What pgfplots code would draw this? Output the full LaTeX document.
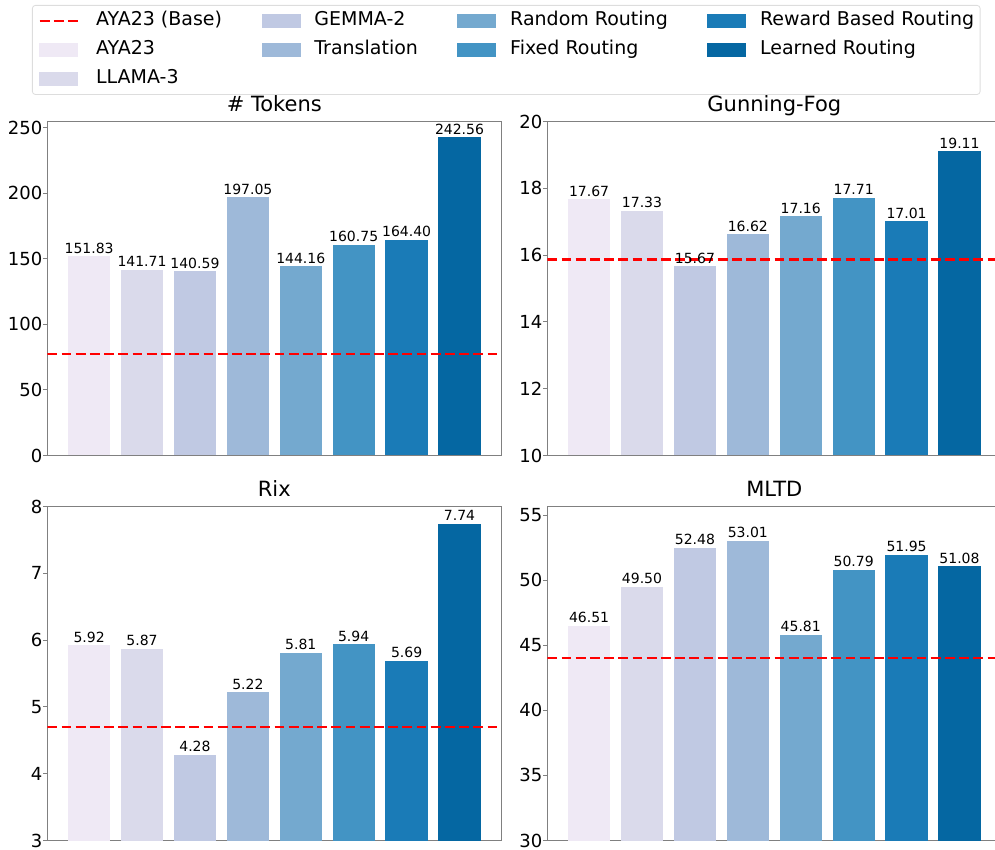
\documentclass[border=0pt]{standalone}
\usepackage{fontspec}
\setmainfont{DejaVu Sans}
\usepackage{pgfplots}
\pgfplotsset{compat=1.18}

\definecolor{c1}{HTML}{EFE9F5}
\definecolor{c2}{HTML}{DADAEB}
\definecolor{c3}{HTML}{C0C9E3}
\definecolor{c4}{HTML}{9EB9D9}
\definecolor{c5}{HTML}{74A9CF}
\definecolor{c6}{HTML}{4394C4}
\definecolor{c7}{HTML}{1A7BB7}
\definecolor{c8}{HTML}{0567A2}
\definecolor{spine}{HTML}{808080}
\definecolor{legframe}{HTML}{DDDDDD}

\tikzset{baseline line/.style={red, line width=2.7pt, dash pattern=on 9.9pt off 4.3pt}}

\pgfplotsset{
  panel/.style={
    width=454pt, height=334pt, scale only axis,
    anchor=south west,
    xmin=-0.79, xmax=7.79,
    xtick=\empty,
    ytick pos=left, tick align=outside, major tick length=4pt,
    axis line style={spine, line width=0.9pt},
    every tick/.style={spine, line width=0.9pt},
    bar width=0.8, bar shift=0pt,
    ticklabel style={font=\fontsize{18}{20}\selectfont},
    yticklabel style={xshift=2.5pt},
    /pgf/number format/assume math mode=true,
    title style={font=\fontsize{21}{24}\selectfont, at={(0.5,1)}, anchor=base, yshift=4pt},
  },
  mybar/.style={ybar, draw=none, fill=#1,
    nodes near coords,
    nodes near coords style={font=\fontsize{14}{16}\selectfont, black,
      /pgf/number format/fixed, /pgf/number format/fixed zerofill,
      /pgf/number format/precision=2, anchor=base, yshift=3pt, inner sep=0pt}},
}

% eight bars, one per method
\newcommand\bars[8]{%
  \addplot[mybar=c1] coordinates {(0,#1)};
  \addplot[mybar=c2] coordinates {(1,#2)};
  \addplot[mybar=c3] coordinates {(2,#3)};
  \addplot[mybar=c4] coordinates {(3,#4)};
  \addplot[mybar=c5] coordinates {(4,#5)};
  \addplot[mybar=c6] coordinates {(5,#6)};
  \addplot[mybar=c7] coordinates {(6,#7)};
  \addplot[mybar=c8] coordinates {(7,#8)};
}
% legend handle: 38pt patch plus 14pt gap before the text
\newcommand\legbar[1]{\addlegendimage{legend image code/.code={%
  \fill[#1, sharp corners] (0pt,-6.5pt) rectangle (38pt,6.5pt);
  \path (52pt,0pt);}}}
\newcommand\gap{\hspace*{4pt}}

\begin{document}
\begin{tikzpicture}
\useasboundingbox (0,0) rectangle (995pt,849pt);
\clip (0,0) rectangle (995pt,849pt);

\begin{axis}[panel, at={(47.3pt,393.5pt)},
  title={\# Tokens}, ymin=0, ymax=254.69, ytick={0,50,...,250},
  legend style={at={(-0.0337,1.3488)}, anchor=north west,
    draw=legframe, rounded corners=3pt, line width=0.8pt,
    inner xsep=6pt, inner ysep=7pt,
    font=\fontsize{19}{22}\selectfont,
    row sep=11.3pt, column sep=0pt,
    nodes={inner sep=0pt, text height=13.5pt, text depth=4pt},
    /tikz/every even column/.append style={column sep=39.5pt}},
  legend columns=4, legend cell align=left]
  \addlegendimage{legend image code/.code={%
    \draw[baseline line, sharp corners] (0pt,0pt) -- (38pt,0pt);
    \path (52pt,0pt);}}
  \addlegendentry{\gap AYA23 (Base)}
  \legbar{c3}\addlegendentry{GEMMA-2}
  \legbar{c5}\addlegendentry{Random Routing}
  \legbar{c7}\addlegendentry{Reward Based Routing}
  \legbar{c1}\addlegendentry{\gap AYA23}
  \legbar{c4}\addlegendentry{Translation}
  \legbar{c6}\addlegendentry{Fixed Routing}
  \legbar{c8}\addlegendentry{Learned Routing}
  \legbar{c2}\addlegendentry{\gap LLAMA-3}
  \bars{151.83}{141.71}{140.59}{197.05}{144.16}{160.75}{164.40}{242.56}
  \addplot[baseline line] coordinates {(-0.79,77.5) (7.79,77.5)};
\end{axis}

\begin{axis}[panel, at={(547.3pt,393.5pt)},
  title={Gunning-Fog}, ymin=10, ymax=20, ytick={10,12,...,20}]
  \bars{17.67}{17.33}{15.67}{16.62}{17.16}{17.71}{17.01}{19.11}
  \addplot[baseline line] coordinates {(-0.79,15.87) (7.79,15.87)};
\end{axis}

\begin{axis}[panel, at={(47.3pt,8.5pt)},
  title={Rix}, ymin=3, ymax=8, ytick={3,4,...,8}]
  \bars{5.92}{5.87}{4.28}{5.22}{5.81}{5.94}{5.69}{7.74}
  \addplot[baseline line] coordinates {(-0.79,4.70) (7.79,4.70)};
\end{axis}

\begin{axis}[panel, at={(547.3pt,8.5pt)},
  title={MLTD}, ymin=30, ymax=55.66, ytick={30,35,...,55}]
  \bars{46.51}{49.50}{52.48}{53.01}{45.81}{50.79}{51.95}{51.08}
  \addplot[baseline line] coordinates {(-0.79,44.03) (7.79,44.03)};
\end{axis}
\end{tikzpicture}
\end{document}
